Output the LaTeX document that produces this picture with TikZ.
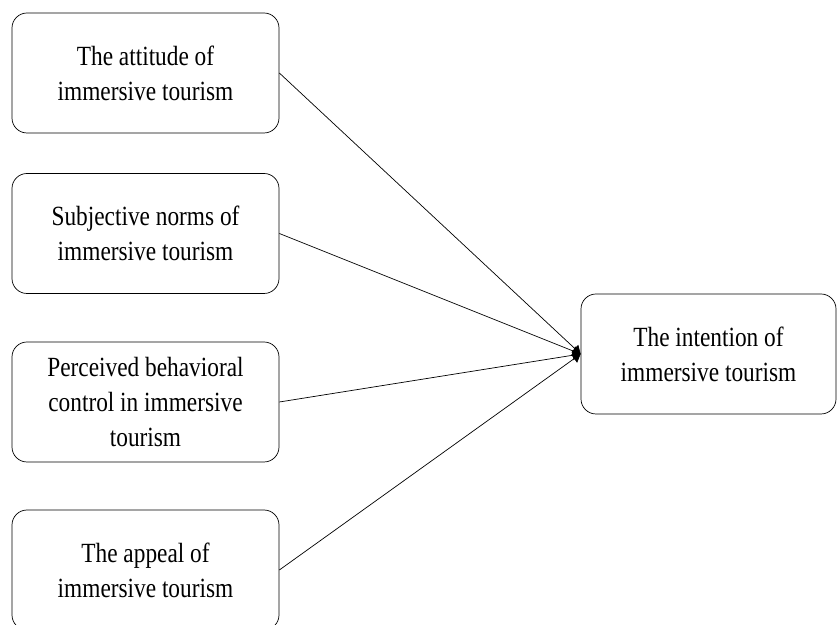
\documentclass[tikz,border=0pt]{standalone}
\usepackage{fontspec}
\setmainfont[FakeStretch=0.84]{Liberation Serif}
\usetikzlibrary{arrows.meta}
\begin{document}
\begin{tikzpicture}[font=\fontsize{15.8}{19.9}\selectfont,
  box/.style={draw, rounded corners=0.3cm, minimum width=5.34cm,
    minimum height=2.4cm, align=center, inner sep=2pt},
  link/.style={-{Triangle[length=1.6mm,width=2mm]}}]
  \useasboundingbox (0,0) rectangle (16.74,12.5);
  % predictors
  \node[box] (att)    at (2.91,11.04) {The attitude of\\immersive tourism};
  \node[box] (norms)  at (2.91,7.83)  {Subjective norms of\\immersive tourism};
  \node[box] (pbc)    at (2.91,4.46)  {Perceived behavioral\\control in immersive\\tourism};
  \node[box] (appeal) at (2.91,1.10)  {The appeal of\\immersive tourism};

  % outcome
  \node[box, minimum width=5.1cm] (intent) at (14.17,5.42)
    {The intention of\\immersive tourism};

  \foreach \src in {att,norms,pbc,appeal}
    \draw[link] (\src.east) -- (intent.west);
\end{tikzpicture}
\end{document}
